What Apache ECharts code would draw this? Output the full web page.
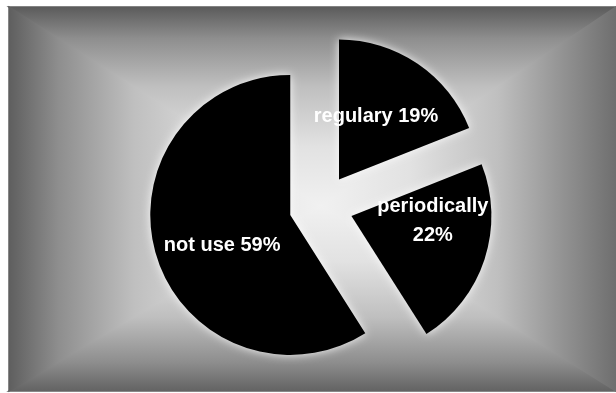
<!DOCTYPE html>
<html>
<head>
<meta charset="utf-8">
<script src="https://cdn.jsdelivr.net/npm/echarts@6/dist/echarts.min.js"></script>
<style>
html,body{margin:0;padding:0;background:#fff;}
#chart{width:616px;height:393px;}
</style>
</head>
<body>
<div id="chart"></div>
<script>
// Data
var categories = ['regulary', 'periodically', 'not use'];
var values = [19, 22, 59];

var chart = echarts.init(document.getElementById('chart'), null, {renderer: 'canvas'});

// background box gradient geometry
var X0 = 9, Y0 = 7, X1 = 616, Y1 = 391, CX = 321, CY = 206;
function grad(x, y, x2, y2, edge) {
  return {type: 'linear', x: x, y: y, x2: x2, y2: y2, colorStops: [
    {offset: 0, color: edge},
    {offset: 0.16, color: '#8e8e8e'},
    {offset: 0.4, color: '#bfbfbf'},
    {offset: 0.7, color: '#e2e2e2'},
    {offset: 1, color: '#f1f1f1'}
  ]};
}
function tri(points, x, y, x2, y2, edge) {
  return {
    type: 'polygon', z: -10, silent: true,
    shape: {points: points},
    style: {fill: grad(x, y, x2, y2, edge), stroke: grad(x, y, x2, y2, edge), lineWidth: 1.5}
  };
}

var pieData = categories.map(function (c, i) {
  return {name: c, value: values[i], selected: true};
});

var labelShift = [[-4, -3], [12, -17], [2, 10]];

chart.setOption({
  animation: false,
  backgroundColor: '#ffffff',
  graphic: {
    elements: [
      {type: 'rect', z: -11, silent: true, shape: {x: X0, y: Y0, width: X1 - X0, height: Y1 - Y0}, style: {fill: '#b0b0b0'}},
      tri([[X0, Y0], [X1, Y0], [CX, CY]], 0, 0, 0, 1, '#5a5a5a'),
      tri([[X0, Y1], [X1, Y1], [CX, CY]], 0, 1, 0, 0, '#626262'),
      tri([[X0, Y0], [X0, Y1], [CX, CY]], 0, 0, 1, 0, '#5e5e5e'),
      tri([[X1, Y0], [X1, Y1], [CX, CY]], 1, 0, 0, 0, '#6e6e6e')
    ]
  },
  series: [{
    type: 'pie',
    center: [CX, CY],
    radius: 140,
    startAngle: 90,
    clockwise: true,
    selectedMode: 'multiple',
    selectedOffset: 32,
    avoidLabelOverlap: false,
    itemStyle: {
      color: '#000000',
      borderWidth: 0,
      shadowBlur: 10,
      shadowColor: 'rgba(255,255,255,0.9)'
    },
    select: {itemStyle: {color: '#000000', borderWidth: 0}},
    emphasis: {disabled: true, scale: false},
    label: {
      show: true,
      position: 'inside',
      color: '#ffffff',
      fontFamily: 'Liberation Sans, Arial, sans-serif',
      fontWeight: 'bold',
      fontSize: 20,
      lineHeight: 29,
      align: 'center',
      formatter: function (p) {
        return p.name + (p.dataIndex === 1 ? '\n' : ' ') + p.value + '%';
      }
    },
    labelLine: {show: false},
    labelLayout: function (p) {
      var s = labelShift[p.dataIndex];
      return {dx: s[0], dy: s[1]};
    },
    data: pieData
  }]
});
</script>
</body>
</html>
